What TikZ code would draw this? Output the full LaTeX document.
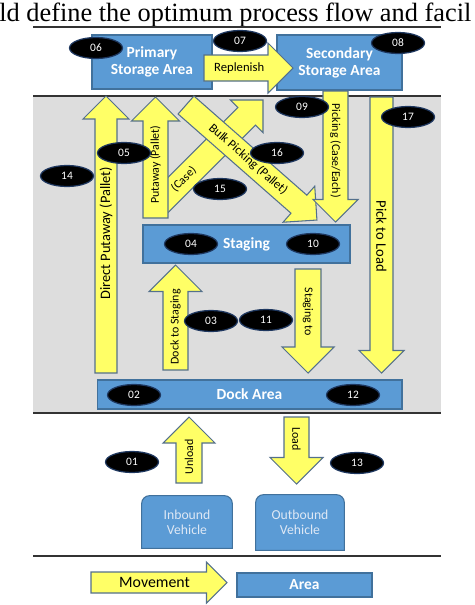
\documentclass[tikz,border=0pt]{standalone}
\usepackage{fontspec}
\newfontfamily\calibri{Carlito}
\newfontfamily\timesfont{Liberation Serif}
\usepackage{xcolor}
\definecolor{boxblue}{RGB}{91,155,213}
\definecolor{boxrim}{RGB}{65,113,156}
\definecolor{flowyel}{RGB}{255,255,102}
\definecolor{flowrim}{RGB}{84,112,140}
\definecolor{zonegrey}{RGB}{221,221,221}
\definecolor{tagrim}{RGB}{30,55,95}
\definecolor{vehtext}{RGB}{222,232,245}
\usepackage{tikz}
\usetikzlibrary{calc,shapes,backgrounds}

\tikzset{label pos/.store in=\flowpos, label pos=0.55}

% block arrow: [opts]{name}{tail}{angle}{length}{half shaft}{half head}{text}
\newcommand{\flowarrow}[8][]{%
  \begin{scope}[shift={#3},rotate=#4,flowtext,#1]
    \filldraw[flow] (0,-#6) -- ({#5-#7},-#6) -- ({#5-#7},-#7) -- (#5,0)
      -- ({#5-#7},#7) -- ({#5-#7},#6) -- (0,#6) -- cycle;
    \node[flowlabel,rotate=#4] (#2) at ({\flowpos*(#5-#7)},0) {#8};
  \end{scope}}

\begin{document}
\begin{tikzpicture}[x=0.02cm,y=-0.02cm,
  area/.style={rectangle,fill=boxblue,draw=boxrim,line width=0.6pt,inner sep=0pt,
    text=white,align=center,font=\calibri\bfseries\fontsize{8.8}{9.6}\selectfont},
  vehicle/.style={rectangle,inner sep=0pt,align=center,text=vehtext,
    font=\calibri\fontsize{7.8}{8.4}\selectfont},
  vehicle shape/.style={fill=boxblue,draw=boxrim,line width=0.6pt},
  tag/.style={ellipse,fill=black,draw=tagrim,line width=0.7pt,inner sep=0pt,
    minimum width=1.06cm,minimum height=0.42cm,text=white,
    font=\calibri\fontsize{6.5}{7}\selectfont},
  flow/.style={fill=flowyel,draw=flowrim,line width=0.6pt},
  flowtext/.style={font=\calibri\fontsize{6.8}{8}\selectfont},
  flowlabel/.style={inner sep=0pt,text=black},
  rule/.style={draw=black!80,line width=1pt}]

  \useasboundingbox (0,0) rectangle (474,605);

  \node[anchor=base west,inner sep=0pt,font=\timesfont\fontsize{15}{18}\selectfont]
    (title) at (-1,21) {ld define the optimum process flow and facil};
  \draw[rule,line width=0.6pt] (33,27) -- (441,27);

  % warehouse zone
  \fill[zonegrey] (33,96) rectangle (441,413);
  \draw[rule] (33,96) -- (441,96);
  \draw[rule] (33,413) -- (441,413);
  \draw[rule] (33,556) -- (441,556);

  \node[area,minimum width=2.4cm,minimum height=1.08cm] (primary) at (152,62) {Primary\\Storage Area};
  \node[area,minimum width=2.5cm,minimum height=1.1cm] (secondary) at (339.5,62.5) {Secondary\\Storage Area};
  \node[area,minimum width=4.14cm,minimum height=0.76cm] (staging) at (246.5,244) {Staging};
  \node[area,minimum width=6.1cm,minimum height=0.58cm] (dock) at (249.5,394.5) {Dock Area};
  \node[area,minimum width=2.7cm,minimum height=0.48cm] (area) at (304.5,585) {Area};

  \node[vehicle,minimum width=1.8cm,minimum height=1.04cm] (inbound) at (187,522) {Inbound\\Vehicle};
  \node[vehicle,minimum width=1.76cm,minimum height=1.1cm] (outbound) at (300,522.5) {Outbound\\Vehicle};

  \begin{pgfonlayer}{background}
    \filldraw[vehicle shape] (inbound.south west) -- ([yshift=-4.5pt]inbound.north west)
      arc[start angle=180,end angle=90,radius=4.5pt] -- ([xshift=-4.5pt]inbound.north east)
      arc[start angle=90,end angle=0,radius=4.5pt] -- (inbound.south east) -- cycle;
    \filldraw[vehicle shape] (outbound.south west) -- ([yshift=-4.5pt]outbound.north west)
      arc[start angle=180,end angle=90,radius=4.5pt] -- ([xshift=-4.5pt]outbound.north east)
      arc[start angle=90,end angle=0,radius=4.5pt] -- (outbound.south east) -- cycle;
  \end{pgfonlayer}

  % the case arrow goes under the putaway arrow
  \flowarrow[label pos=0.29]{caseflow}{(158,205)}{45}{148.5}{12.5}{23}{(Case)}
  \flowarrow{putaway}{(155.5,218)}{90}{121}{12.5}{24}{Putaway (Pallet)}
  \flowarrow[font=\calibri\fontsize{8.2}{10}\selectfont]{directput}{(106,373)}{90}{277}{11}{23}{Direct Putaway (Pallet)}
  \flowarrow[font=\calibri\fontsize{7.2}{9}\selectfont]{bulkpick}{(186,105)}{-41.3}{174.3}{12}{24}{Bulk Picking (Pallet)}
  \flowarrow{picking}{(335.5,91)}{-90}{131}{12.5}{22.5}{Picking (Case/Each)}
  \flowarrow[font=\calibri\fontsize{8.3}{10}\selectfont]{picktoload}{(381.5,97)}{-90}{276}{11.5}{22.5}{Pick to Load}
  \flowarrow{docktostage}{(175.5,370)}{90}{105}{12.5}{26.5}{Dock to Staging}
  \flowarrow{stagetodock}{(308,269)}{-90}{104}{13}{26}{Staging to}
  \flowarrow[font=\calibri\fontsize{7.2}{9}\selectfont]{replenish}{(204,68)}{0}{89}{13}{25}{Replenish}
  \flowarrow[label pos=0.65]{unload}{(189,483)}{90}{66}{13}{26}{Unload}
  \flowarrow{load}{(296.5,417)}{-90}{67}{12.5}{26.5}{Load}
  \flowarrow[font=\calibri\fontsize{9}{11}\selectfont]{movement}{(91,582.5)}{0}{136}{10.5}{20.5}{Movement}

  % step numbers
  \node[tag] (t06) at (96,48) {06};
  \node[tag] (t07) at (240,41) {07};
  \node[tag] (t08) at (398,43) {08};
  \node[tag] (t09) at (302,107) {09};
  \node[tag] (t17) at (408,117) {17};
  \node[tag] (t05) at (124,153) {05};
  \node[tag] (t16) at (277,153) {16};
  \node[tag] (t14) at (67,176) {14};
  \node[tag] (t15) at (220,189) {15};
  \node[tag] (t04) at (191,244) {04};
  \node[tag] (t10) at (313,244) {10};
  \node[tag] (t03) at (211,321) {03};
  \node[tag] (t11) at (266,320) {11};
  \node[tag] (t02) at (134,395) {02};
  \node[tag] (t12) at (353,395) {12};
  \node[tag] (t01) at (132,462) {01};
  \node[tag] (t13) at (357,463) {13};
\end{tikzpicture}
\end{document}
